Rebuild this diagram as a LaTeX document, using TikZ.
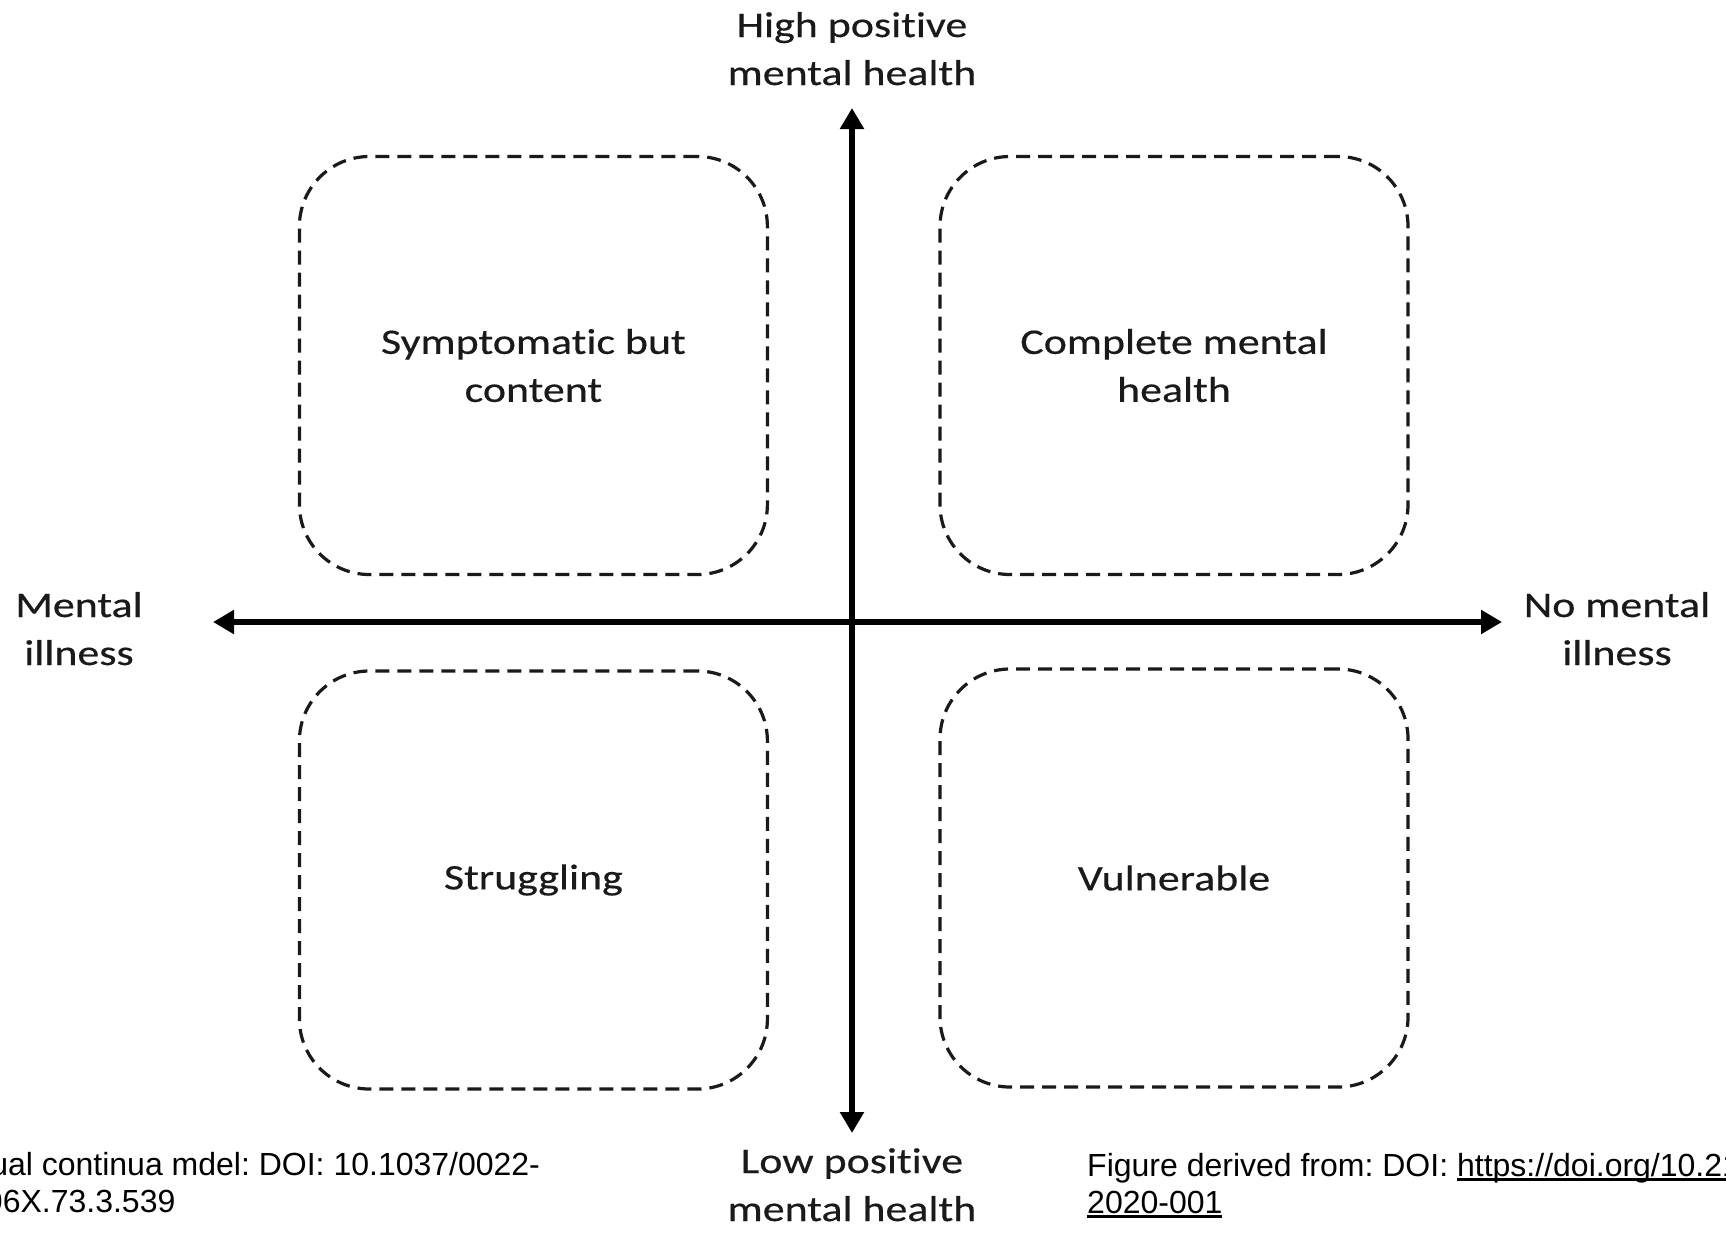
\documentclass[tikz,border=0pt]{standalone}
\usepackage{fontspec}
\usetikzlibrary{arrows.meta}
\newfontfamily\calfont[FakeStretch=1.22,FakeBold=0.4,Ligatures={NoCommon,NoDiscretionary}]{Carlito}
\newfontfamily\arialfont{Liberation Sans}
\newcommand\myul[1]{\setbox0\hbox{#1}\rlap{\rule[-4.5pt]{\wd0}{2.2pt}}\box0}
\definecolor{ink}{HTML}{1A1A1A}
\frenchspacing
\tikzset{
  quad/.style={draw=ink, line width=3.2pt, dash pattern=on 14pt off 8pt,
    rounded corners=70pt, minimum width=468pt, minimum height=418pt,
    inner sep=0pt, align=center, text=ink,
    font=\calfont\fontsize{36}{48}\selectfont},
  axislabel/.style={align=center, inner sep=0pt, anchor=base, text=ink,
    font=\calfont\fontsize{36}{48}\selectfont},
  axisline/.style={line width=5.5pt, draw=black,
    {Triangle[length=21pt,width=23pt]}-{Triangle[length=21pt,width=23pt]}},
  ref/.style={align=left, inner sep=0pt, anchor=base west, text=black,
    font=\arialfont\fontsize{32}{37}\selectfont}
}
\begin{document}
\begin{tikzpicture}[x=1pt,y=-1pt]
\useasboundingbox (0,0) rectangle (1726,1232);
\clip (0,0) rectangle (1726,1232);
\fill[white] (0,0) rectangle (1726,1232);

% quadrant boxes
\node[quad] (sbc) at (533.4,365.5) {Symptomatic but\\content};
\node[quad] (cmh) at (1174,365.5) {Complete mental\\health};
\node[quad] (str) at (533.4,880) {Struggling};
\node[quad] (vul) at (1174,878) {Vulnerable};

% axes
\coordinate (N) at (852,108);
\coordinate (S) at (852,1133);
\coordinate (W) at (213,622);
\coordinate (E) at (1502,622);
\draw[axisline] (W) -- (E);
\draw[axisline] (S) -- (N);

% axis labels (anchor = baseline of last line)
\node[axislabel] (high) at (852,85) {High positive\\mental health};
\node[axislabel] (low) at (852,1221) {Low positive\\mental health};
\node[axislabel] (mi) at (79,665) {Mental\\illness};
\node[axislabel] (nmi) at (1617,665) {No mental\\illness};

% references
\node[ref] (refL) at (-33,1212) {Dual continua mdel: DOI: 10.1037/0022-\\006X.73.3.539};
\node[ref] (refR) at (1087,1213) {Figure derived from: DOI: \myul{https://doi.org/10.21}\\\myul{2020-001}};
\end{tikzpicture}
\end{document}
